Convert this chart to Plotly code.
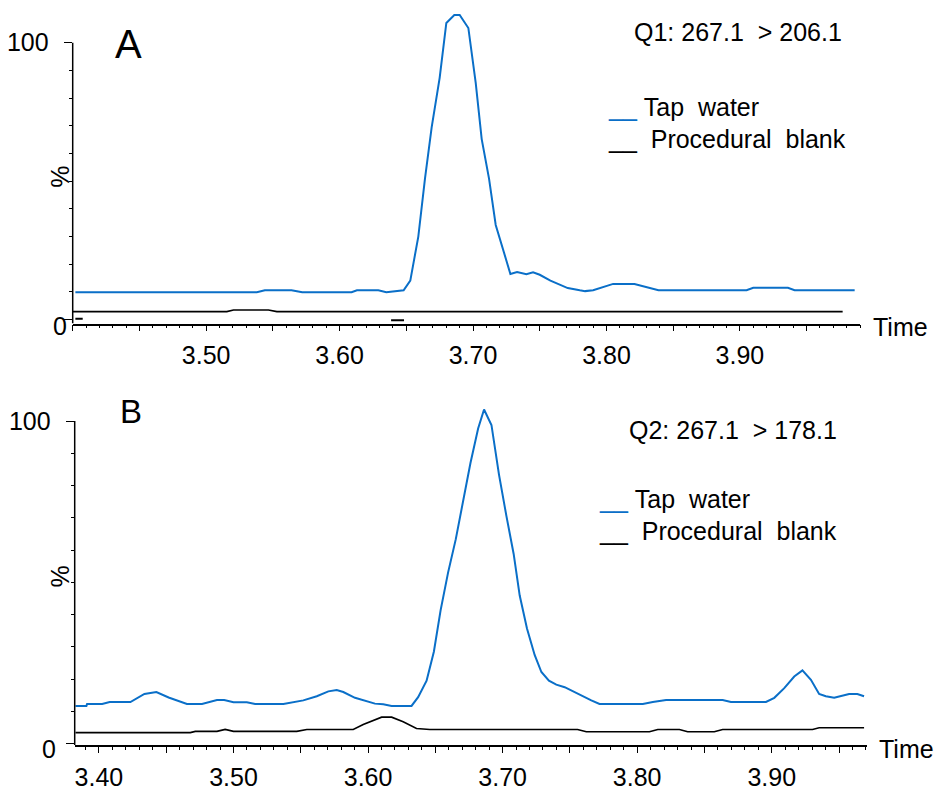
import plotly.graph_objects as go

# ---------------- data (retention time in min, relative abundance in %) ----------------
tap_a_time = [3.402, 3.538, 3.544, 3.564, 3.572, 3.609, 3.613, 3.629, 3.635, 3.648, 3.653,
              3.659, 3.664, 3.669, 3.675, 3.680, 3.686, 3.690, 3.6965, 3.702, 3.7065, 3.712,
              3.717, 3.723, 3.728, 3.733, 3.740, 3.745, 3.750, 3.758, 3.765, 3.771, 3.780,
              3.784, 3.790, 3.805, 3.821, 3.839, 3.905, 3.910, 3.936, 3.941, 3.986]
tap_a_signal = [9.9, 9.9, 10.6, 10.6, 9.9, 9.9, 10.6, 10.6, 9.9, 10.6, 14.1,
                30.0, 50.9, 69.4, 87.3, 107.1, 110.0, 110.0, 105.3, 85.6, 65.2, 50.9,
                34.2, 24.6, 16.5, 17.2, 16.4, 17.1, 16.2, 14.1, 12.7, 11.4, 10.6,
                10.3, 10.6, 12.9, 12.9, 10.6, 10.6, 11.5, 11.5, 10.6, 10.6]

blank_a_time = [3.40, 3.5155, 3.5205, 3.5467, 3.553, 3.977]
blank_a_signal = [2.9, 2.9, 3.5, 3.5, 2.9, 2.9]

blank_a_marks_time = [3.402, 3.4075, None, 3.6386, 3.6483]
blank_a_marks_signal = [0.36, 0.36, None, -0.25, -0.25]

tap_b_time = [3.3826, 3.3907, 3.3912, 3.4024, 3.408, 3.4234, 3.4338, 3.4427, 3.4518, 3.4654,
              3.4766, 3.4877, 3.4931, 3.50, 3.5099, 3.5161, 3.5371, 3.5445, 3.5519, 3.5619,
              3.5705, 3.5767, 3.5816, 3.5903, 3.5964, 3.6051, 3.6113, 3.6175, 3.6323, 3.6372,
              3.6435, 3.6489, 3.6539, 3.6595, 3.6652, 3.6706, 3.6761, 3.6818, 3.6862, 3.6917,
              3.6973, 3.7028, 3.7082, 3.7127, 3.7181, 3.7238, 3.7288, 3.7344, 3.7399, 3.7461,
              3.7522, 3.7585, 3.7659, 3.7720, 3.8042, 3.8116, 3.8215, 3.8635, 3.8697, 3.8957,
              3.9019, 3.9093, 3.9167, 3.9228, 3.9291, 3.9352, 3.9402, 3.9464, 3.9513, 3.9575,
              3.9636, 3.9686]
tap_b_signal = [11.7, 11.7, 12.3, 12.3, 12.9, 12.9, 15.4, 16.0, 14.3, 12.3,
                12.3, 13.5, 13.5, 12.8, 12.8, 12.3, 12.3, 12.9, 13.4, 14.7,
                16.2, 16.6, 16.0, 14.2, 13.5, 12.4, 12.2, 11.7, 11.7, 14.4,
                19.5, 28.5, 41.3, 53.1, 63.4, 75.7, 87.0, 97.7, 103.6, 98.8,
                83.4, 70.6, 58.8, 45.9, 35.7, 27.5, 22.2, 19.5, 18.3, 17.5,
                16.2, 14.9, 13.4, 12.3, 12.3, 12.9, 13.5, 13.5, 12.9, 12.9,
                14.2, 17.2, 20.8, 22.7, 19.8, 15.4, 14.7, 14.2, 14.7, 15.4,
                15.4, 14.7]

blank_b_time = [3.3826, 3.4679, 3.4716, 3.4877, 3.4938, 3.50, 3.547, 3.5545, 3.589, 3.5964,
                3.6101, 3.6175, 3.6261, 3.636, 3.6459, 3.7557, 3.7622, 3.8091, 3.8153, 3.8314,
                3.8375, 3.8573, 3.8635, 3.9303, 3.9352, 3.9686]
blank_b_signal = [3.4, 3.4, 3.8, 3.8, 4.4, 3.8, 3.8, 4.4, 4.4, 5.9,
                  8.2, 8.2, 6.8, 4.7, 4.4, 4.4, 3.7, 3.7, 4.4, 4.4,
                  3.7, 3.7, 4.4, 4.4, 4.9, 4.9]

x_major_ticks = [3.40, 3.45, 3.50, 3.55, 3.60, 3.65, 3.70, 3.75, 3.80, 3.85, 3.90, 3.95]
x_labels_a = ["", "", "3.50", "", "3.60", "", "3.70", "", "3.80", "", "3.90", ""]
x_labels_b = ["3.40", "", "3.50", "", "3.60", "", "3.70", "", "3.80", "", "3.90", ""]
y_ticks = [0, 100]
y_labels = ["", "100"]
y_zero_label = "0"
y_minor_ticks = [10, 20, 30, 40, 50, 60, 70, 80, 90]

transition_a = "Q1: 267.1\u00a0\u00a0> 206.1"
transition_b = "Q2: 267.1\u00a0\u00a0> 178.1"
series_names = ["Tap\u00a0\u00a0water", "Procedural\u00a0\u00a0blank"]

BLUE = "#0a6fc8"
FONT = "Liberation Sans, Arial, sans-serif"
W, H = 935, 791

fig = go.Figure()
fig.add_trace(go.Scatter(x=tap_a_time, y=tap_a_signal, mode="lines", name=series_names[0],
                         line=dict(color=BLUE, width=2), xaxis="x", yaxis="y", showlegend=False))
fig.add_trace(go.Scatter(x=blank_a_time, y=blank_a_signal, mode="lines", name=series_names[1],
                         line=dict(color="black", width=1.6), xaxis="x", yaxis="y", showlegend=False))
fig.add_trace(go.Scatter(x=blank_a_marks_time, y=blank_a_marks_signal, mode="lines",
                         line=dict(color="black", width=2), xaxis="x", yaxis="y",
                         showlegend=False, connectgaps=False))
fig.add_trace(go.Scatter(x=tap_b_time, y=tap_b_signal, mode="lines", name=series_names[0],
                         line=dict(color=BLUE, width=2), xaxis="x2", yaxis="y2", showlegend=False))
fig.add_trace(go.Scatter(x=blank_b_time, y=blank_b_signal, mode="lines", name=series_names[1],
                         line=dict(color="black", width=1.6), xaxis="x2", yaxis="y2", showlegend=False))


def xaxis(domain, rng, labels, anchor):
    return dict(domain=domain, range=rng, anchor=anchor, showgrid=False, zeroline=False,
                showline=True, linecolor="black", linewidth=1.5,
                tickmode="array", tickvals=x_major_ticks, ticktext=labels,
                ticks="outside", ticklen=6, tickwidth=1.3, tickcolor="black",
                ticklabelstandoff=3,
                minor=dict(dtick=0.01, tick0=3.40, ticks="outside", ticklen=3,
                           tickwidth=1.2, tickcolor="black"),
                tickfont=dict(family=FONT, size=25, color="black"))


def yaxis(domain, rng, anchor):
    return dict(domain=domain, range=rng, anchor=anchor, showgrid=False, zeroline=False,
                showline=False, tickmode="array", tickvals=y_ticks,
                ticktext=y_labels, ticks="outside", ticklen=8, tickwidth=1.3,
                tickcolor="black", ticklabelstandoff=10,
                minor=dict(tickmode="array", tickvals=y_minor_ticks, ticks="outside",
                           ticklen=3, tickwidth=1.2, tickcolor="black"),
                tickfont=dict(family=FONT, size=25, color="black"))


fig.update_layout(
    width=W, height=H, margin=dict(l=0, r=0, t=0, b=0),
    paper_bgcolor="white", plot_bgcolor="white",
    xaxis=xaxis([72.7 / W, 860 / W], [3.40, 3.99], x_labels_a, "y"),
    yaxis=yaxis([1 - 326 / H, 1 - 9.5 / H], [-1.4, 112], "x"),
    xaxis2=xaxis([74.7 / W, 867.3 / W], [3.382, 3.971], x_labels_b, "y2"),
    yaxis2=yaxis([1 - 750.7 / H, 1 - 398.3 / H], [-0.43, 108], "x2"),
)

# y axis lines (only up to 100 %)
fig.add_shape(type="line", xref="x domain", yref="y", x0=0, x1=0, y0=-1.4, y1=100,
              line=dict(color="black", width=1.5))
fig.add_shape(type="line", xref="x2 domain", yref="y2", x0=0, x1=0, y0=-0.43, y1=100,
              line=dict(color="black", width=1.5))


def px(x, y):
    return x / W, 1 - y / H


def ann(x, y, text, size=25, xanchor="center", yanchor="middle", angle=0):
    ax, ay = px(x, y)
    fig.add_annotation(x=ax, y=ay, xref="paper", yref="paper", text=text, showarrow=False,
                       xanchor=xanchor, yanchor=yanchor, textangle=angle,
                       font=dict(family=FONT, size=size, color="black"))


# "0" labels sit slightly below their ticks in the original
ann(60, 328, y_zero_label)
ann(49, 755, y_zero_label)
# panel letters
ann(128, 44, "A", size=40)
ann(131, 415, "B", size=33)
# transitions
ann(738, 32, transition_a)
ann(733, 433, transition_b)
# % labels
ann(60, 178, "%", angle=-90)
ann(60, 581, "%", angle=-90)
# Time labels
ann(871, 330, "Time", xanchor="left")
ann(877, 755, "Time", xanchor="left")

# legends (coloured underscores as in the original)
leg_a = [(606, 108, BLUE, series_names[0]), (606, 140, "black", "\u00a0" + series_names[1])]
leg_b = [(597, 503, BLUE, series_names[0]), (597, 535, "black", "\u00a0" + series_names[1])]
for (x, y, c, name) in leg_a + leg_b:
    ann(x, y, "<span style='color:%s'>__</span>\u00a0%s" % (c, name), size=25, xanchor="left")

fig.write_html("out.html", config={"displayModeBar": False},
               post_script="document.body.style.margin='0';document.body.style.overflow='hidden';")
